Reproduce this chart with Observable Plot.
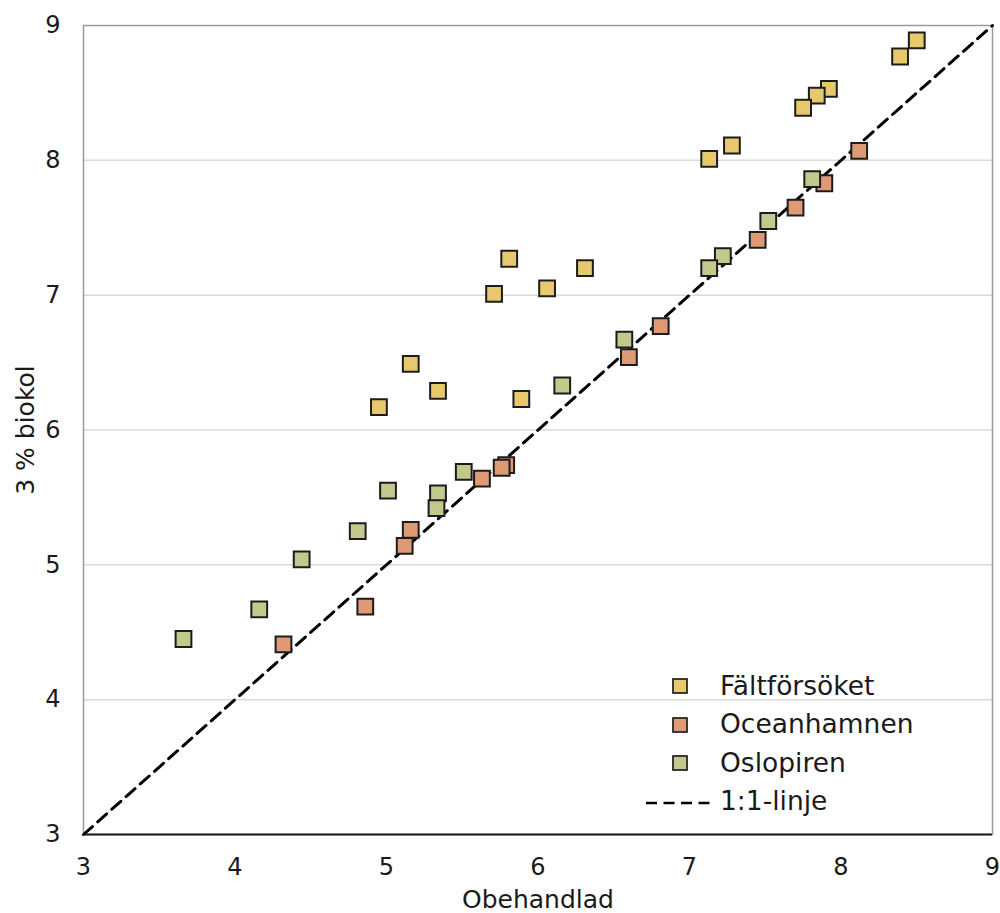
<!DOCTYPE html>
<html>
<head>
<meta charset="utf-8">
<script src="https://cdn.jsdelivr.net/npm/d3@7"></script>
<script src="https://cdn.jsdelivr.net/npm/@observablehq/plot@0.6"></script>
<style>
  html, body { margin: 0; padding: 0; background: #fff; }
  #chart { position: relative; width: 1000px; height: 913px; font-family: "DejaVu Sans", Verdana, sans-serif; color: #1a1a1a; }
  #chart svg { display: block; }
  .legend { position: absolute; left: 645px; top: 666px; }
  .legend .row { display: flex; align-items: center; height: 38.5px; font-size: 26.5px; }
  .legend .swatch { width: 75px; height: 100%; position: relative; }
  .legend .swatch svg { position: absolute; left: 0; top: 0; }
</style>
</head>
<body>
<div id="chart"></div>
<script>
// Soil pH: untreated (Obehandlad) vs. 3 % biochar, three sites
const seriesNames = ["Fältförsöket", "Oceanhamnen", "Oslopiren"];
const seriesColors = ["#E8C86C", "#DD9A74", "#C3C88D"];

const faltX = [8.50, 8.39, 7.92, 7.84, 7.75, 7.28, 7.13, 5.81, 6.31, 6.06, 5.71, 5.16, 5.34, 5.89, 4.95];
const faltY = [8.89, 8.77, 8.53, 8.48, 8.39, 8.11, 8.01, 7.27, 7.20, 7.05, 7.01, 6.49, 6.29, 6.23, 6.17];

const oceanX = [8.12, 7.89, 7.70, 7.45, 6.81, 6.60, 5.79, 5.76, 5.63, 5.16, 5.12, 4.86, 4.32];
const oceanY = [8.07, 7.83, 7.65, 7.41, 6.77, 6.54, 5.74, 5.72, 5.64, 5.26, 5.14, 4.69, 4.41];

const osloX = [7.81, 7.52, 7.22, 7.13, 6.57, 6.16, 5.51, 5.01, 5.34, 5.33, 4.81, 4.44, 4.16, 3.66];
const osloY = [7.86, 7.55, 7.29, 7.20, 6.67, 6.33, 5.69, 5.55, 5.53, 5.42, 5.25, 5.04, 4.67, 4.45];

const axisTicks = [3, 4, 5, 6, 7, 8, 9];
const gridTicks = [4, 5, 6, 7, 8];
const oneToOne = [3, 9];
const lineLabel = "1:1-linje";
const xTitle = "Obehandlad";
const yTitle = "3 % biokol";

const table = [
  ...faltX.map((x, i) => ({x, y: faltY[i], s: seriesNames[0]})),
  ...oceanX.map((x, i) => ({x, y: oceanY[i], s: seriesNames[1]})),
  ...osloX.map((x, i) => ({x, y: osloY[i], s: seriesNames[2]}))
];

const chart = Plot.plot({
  width: 1000,
  height: 913,
  marginLeft: 83,
  marginRight: 8,
  marginTop: 25,
  marginBottom: 79,
  style: {fontFamily: "\"DejaVu Sans\", Verdana, sans-serif", fontSize: "24px", color: "#1a1a1a", background: "#fff"},
  x: {domain: [3, 9], ticks: axisTicks, label: null},
  y: {domain: [3, 9], ticks: axisTicks, label: null},
  color: {domain: seriesNames, range: seriesColors},
  marks: [
    Plot.ruleY(gridTicks, {stroke: "#d9d9d9", strokeWidth: 1.5}),
    Plot.frame({stroke: "#9a9a9a", strokeWidth: 1.5}),
    Plot.ruleY([3], {stroke: "#1a1a1a", strokeWidth: 2}),
    Plot.axisX({ticks: axisTicks, tickFormat: d => String(d), tickSize: 0, tickPadding: 23, fontSize: 24}),
    Plot.axisY({ticks: axisTicks, tickFormat: d => String(d), tickSize: 0, tickPadding: 23, fontSize: 24}),
    Plot.line(oneToOne, {x: d => d, y: d => d, stroke: "#000", strokeWidth: 3, strokeDasharray: "12,7"}),
    Plot.dot(table, {x: "x", y: "y", fill: "s", symbol: "square", r: 8.9, stroke: "#1c1c1c", strokeWidth: 2, fillOpacity: 1}),
    Plot.text([xTitle], {text: d => d, frameAnchor: "bottom", lineAnchor: "bottom", dy: 73, fontSize: 25, fill: "#1a1a1a"}),
    Plot.text([yTitle], {text: d => d, frameAnchor: "left", textAnchor: "middle", lineAnchor: "bottom", rotate: -90, dx: -50, fontSize: 25, fill: "#1a1a1a"})
  ]
});

const root = document.getElementById("chart");
root.appendChild(chart);

// Legend drawn inside the plot area, lower right
const legend = document.createElement("div");
legend.className = "legend";
const ns = "http://www.w3.org/2000/svg";
seriesNames.forEach((name, i) => {
  const row = document.createElement("div");
  row.className = "row";
  const sw = document.createElement("div");
  sw.className = "swatch";
  const svg = document.createElementNS(ns, "svg");
  svg.setAttribute("width", 75); svg.setAttribute("height", 38.5);
  const r = document.createElementNS(ns, "rect");
  r.setAttribute("x", 28); r.setAttribute("y", 13);
  r.setAttribute("width", 14); r.setAttribute("height", 14);
  r.setAttribute("fill", seriesColors[i]);
  r.setAttribute("stroke", "#1c1c1c"); r.setAttribute("stroke-width", 1.7);
  svg.appendChild(r); sw.appendChild(svg); row.appendChild(sw);
  const t = document.createElement("span"); t.textContent = name;
  row.appendChild(t); legend.appendChild(row);
});
{
  const row = document.createElement("div");
  row.className = "row";
  const sw = document.createElement("div");
  sw.className = "swatch";
  const svg = document.createElementNS(ns, "svg");
  svg.setAttribute("width", 75); svg.setAttribute("height", 38.5);
  const l = document.createElementNS(ns, "line");
  l.setAttribute("x1", 1); l.setAttribute("x2", 71);
  l.setAttribute("y1", 21); l.setAttribute("y2", 21);
  l.setAttribute("stroke", "#000"); l.setAttribute("stroke-width", 2.5);
  l.setAttribute("stroke-dasharray", "11,6.5");
  svg.appendChild(l); sw.appendChild(svg); row.appendChild(sw);
  const t = document.createElement("span"); t.textContent = lineLabel;
  row.appendChild(t); legend.appendChild(row);
}
root.appendChild(legend);
</script>
</body>
</html>
